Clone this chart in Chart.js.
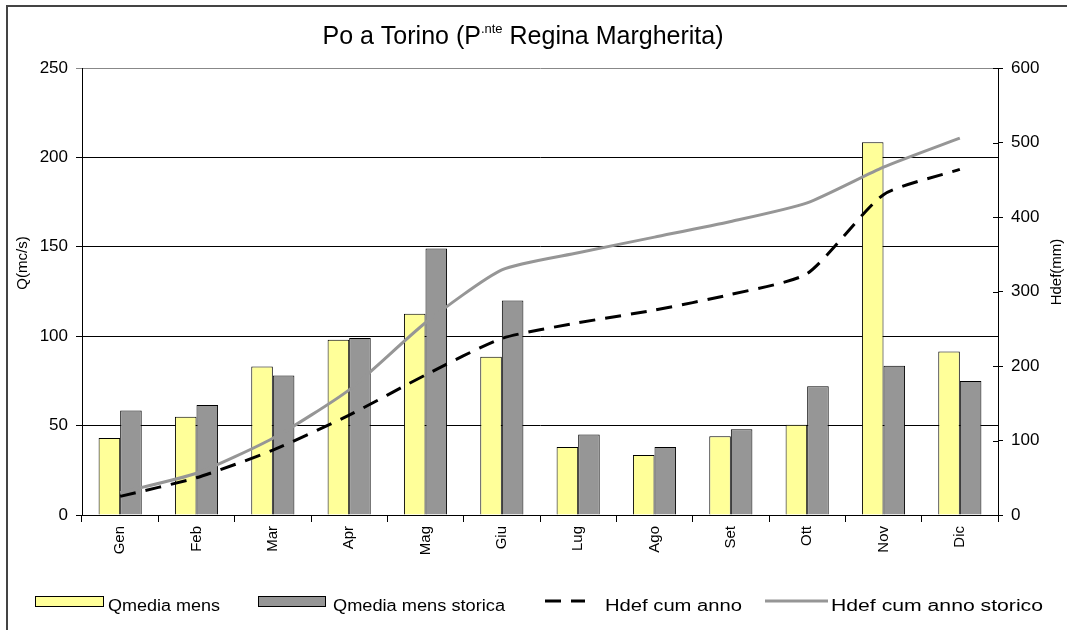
<!DOCTYPE html>
<html>
<head>
<meta charset="utf-8">
<script src="https://cdn.jsdelivr.net/npm/chart.js@4/dist/chart.umd.min.js"></script>
<style>
  html, body { margin: 0; padding: 0; background: #fff; }
  canvas { display: block; }
</style>
</head>
<body>
<canvas id="chart" width="1067" height="630"></canvas>
<script>
// monthly data
const months = ['Gen', 'Feb', 'Mar', 'Apr', 'Mag', 'Giu', 'Lug', 'Ago', 'Set', 'Ott', 'Nov', 'Dic'];
const qMens = [43, 55, 83, 98, 112.5, 88.5, 38, 33.5, 44, 50.5, 208.5, 91.5];
const qMensStorica = [58.5, 61.5, 78, 99, 149, 120, 45, 38, 48, 72, 83.5, 75];
const hdefCumAnno = [25, 50, 87, 134, 188, 237, 258, 275, 296, 324, 430, 464];
const hdefCumStorico = [30, 56, 103, 168, 258, 329, 352, 373, 394, 419, 467, 506];

const qTicks = [0, 50, 100, 150, 200, 250];
const hTicks = [0, 100, 200, 300, 400, 500, 600];

const YELLOW = '#FFFF99';
const GRAY = '#969696';
const FONT = '"Liberation Sans", Arial, sans-serif';

// draw text squeezed/stretched to a given width (the original is a resized Excel picture)
const fitText = (ctx, str, x, y, width) => {
  const w = ctx.measureText(str).width;
  ctx.save();
  ctx.translate(x, y);
  ctx.scale(width / w, 1);
  ctx.fillText(str, 0, 0);
  ctx.restore();
};

// frame, title, axis titles, inner ticks of the right axis and the legend
const extras = {
  id: 'extras',
  afterDraw(chart) {
    const ctx = chart.ctx;
    const area = chart.chartArea;
    ctx.save();

    // outer frame (only left and top show in the picture)
    ctx.strokeStyle = '#444';
    ctx.lineWidth = 2;
    ctx.beginPath();
    ctx.moveTo(7, 630);
    ctx.lineTo(7, 6);
    ctx.lineTo(1067, 6);
    ctx.stroke();

    // title with superscript
    ctx.fillStyle = '#000';
    ctx.textBaseline = 'alphabetic';
    ctx.textAlign = 'left';
    const part1 = 'Po a Torino (P';
    const sup = '.nte';
    const part2 = ' Regina Margherita)';
    ctx.font = '25px ' + FONT;
    const w1 = ctx.measureText(part1).width;
    const w3 = ctx.measureText(part2).width;
    ctx.font = '13px ' + FONT;
    const w2 = ctx.measureText(sup).width;
    let tx = 523 - (w1 + w2 + w3) / 2;
    ctx.font = '25px ' + FONT;
    ctx.fillText(part1, tx, 44);
    ctx.font = '13px ' + FONT;
    ctx.fillText(sup, tx + w1, 33);
    ctx.font = '25px ' + FONT;
    ctx.fillText(part2, tx + w1 + w2, 44);

    // axis titles, both read bottom to top
    ctx.textAlign = 'center';
    ctx.textBaseline = 'middle';
    ctx.font = '15px ' + FONT;
    ctx.save();
    ctx.translate(23, 263);
    ctx.rotate(-Math.PI / 2);
    ctx.fillText('Q(mc/s)', 0, 0);
    ctx.restore();
    ctx.save();
    ctx.translate(1057, 272);
    ctx.rotate(-Math.PI / 2);
    ctx.fillText('Hdef(mm)', 0, 0);
    ctx.restore();

    // right axis ticks cross the axis line
    const y1 = chart.scales.y1;
    ctx.strokeStyle = '#000';
    ctx.lineWidth = 1;
    y1.ticks.forEach(t => {
      const py = Math.round(y1.getPixelForValue(t.value)) + 0.5;
      ctx.beginPath();
      ctx.moveTo(area.right - 5, py);
      ctx.lineTo(area.right, py);
      ctx.stroke();
    });

    // legend
    const ds = chart.data.datasets;
    const ly = 601;
    ctx.textAlign = 'left';
    ctx.font = '16px ' + FONT;
    ctx.fillStyle = '#000';
    const legendItems = [
      { box: [35, 103], text: [108, 220] },
      { box: [258, 325], text: [333, 505] },
      { line: [545, 585], text: [605, 742] },
      { line: [765, 828], text: [831, 1043] }
    ];
    legendItems.forEach((item, i) => {
      const d = ds[i];
      ctx.save();
      if (item.box) {
        ctx.fillStyle = d.backgroundColor;
        ctx.strokeStyle = d.borderColor;
        ctx.lineWidth = 1;
        ctx.fillRect(item.box[0], ly - 5, item.box[1] - item.box[0], 10);
        ctx.strokeRect(item.box[0] + 0.5, ly - 4.5, item.box[1] - item.box[0], 10);
      } else {
        ctx.strokeStyle = d.borderColor;
        ctx.lineWidth = d.borderWidth;
        ctx.setLineDash(d.borderDash || []);
        ctx.beginPath();
        ctx.moveTo(item.line[0], ly);
        ctx.lineTo(item.line[1], ly);
        ctx.stroke();
      }
      ctx.restore();
      ctx.fillStyle = '#000';
      fitText(ctx, d.label, item.text[0], ly + 6, item.text[1] - item.text[0]);
    });

    ctx.restore();
  }
};

new Chart(document.getElementById('chart'), {
  type: 'bar',
  data: {
    labels: months,
    datasets: [
      {
        label: 'Qmedia mens',
        data: qMens,
        backgroundColor: YELLOW,
        borderColor: '#000',
        borderWidth: 1,
        yAxisID: 'y',
        order: 2
      },
      {
        label: 'Qmedia mens storica',
        data: qMensStorica,
        backgroundColor: GRAY,
        borderColor: '#000',
        borderWidth: 1,
        yAxisID: 'y',
        order: 2
      },
      {
        type: 'line',
        label: 'Hdef cum anno',
        data: hdefCumAnno,
        borderColor: '#000',
        borderWidth: 3,
        borderDash: [16, 10],
        pointRadius: 0,
        tension: 0.2,
        fill: false,
        yAxisID: 'y1',
        order: 0
      },
      {
        type: 'line',
        label: 'Hdef cum anno storico',
        data: hdefCumStorico,
        borderColor: GRAY,
        borderWidth: 3,
        pointRadius: 0,
        tension: 0.2,
        fill: false,
        yAxisID: 'y1',
        order: 1
      }
    ]
  },
  options: {
    responsive: false,
    animation: false,
    layout: { padding: { top: 68, left: 0, right: 0, bottom: 0 } },
    datasets: {
      bar: { categoryPercentage: 0.565, barPercentage: 1 }
    },
    plugins: {
      legend: { display: false },
      title: { display: false },
      tooltip: { enabled: false }
    },
    scales: {
      x: {
        grid: { drawOnChartArea: false, color: '#000', tickLength: 7, offset: true },
        border: { color: '#000' },
        ticks: {
          color: '#000',
          font: { family: FONT, size: 15 },
          minRotation: 90,
          maxRotation: 90,
          autoSkip: false,
          padding: 4
        },
        afterFit(s) { s.height = 115; }
      },
      y: {
        position: 'left',
        min: qTicks[0],
        max: qTicks[qTicks.length - 1],
        afterBuildTicks(s) { s.ticks = qTicks.map(v => ({ value: v })); },
        grid: {
          color: c => (c.tick && c.tick.value === 250 ? '#888' : '#000'),
          tickLength: 6
        },
        border: { color: '#000' },
        ticks: { color: '#000', font: { family: FONT, size: 17 }, padding: 8 },
        afterFit(s) { s.width = 82; }
      },
      y1: {
        position: 'right',
        min: hTicks[0],
        max: hTicks[hTicks.length - 1],
        afterBuildTicks(s) { s.ticks = hTicks.map(v => ({ value: v })); },
        grid: { drawOnChartArea: false, color: '#000', tickLength: 5 },
        border: { color: '#000' },
        ticks: { color: '#000', font: { family: FONT, size: 17 }, padding: 8 },
        afterFit(s) { s.width = 69; }
      }
    }
  },
  plugins: [extras]
});
</script>
</body>
</html>
